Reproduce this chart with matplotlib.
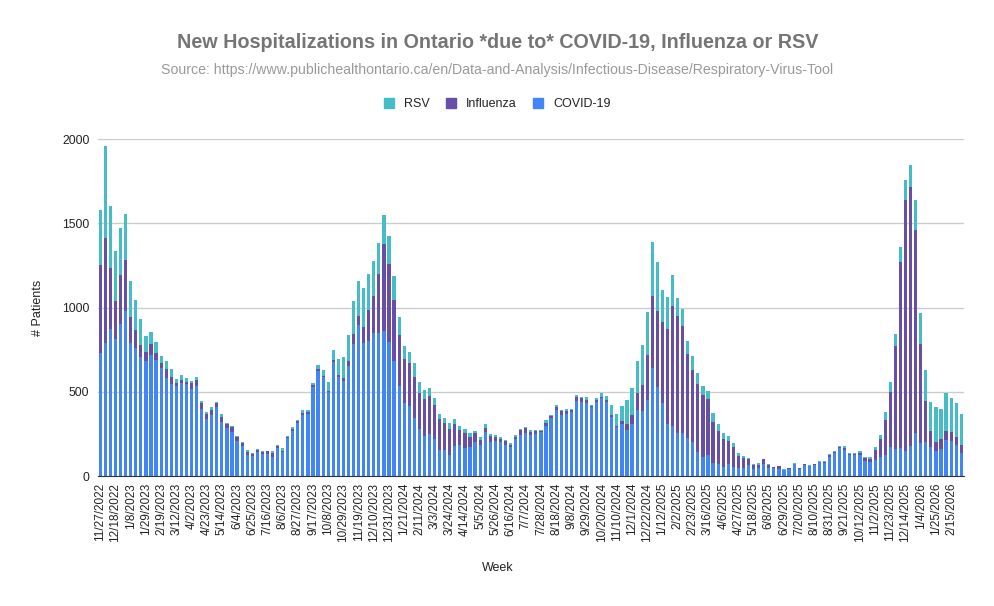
import numpy as np
import pandas as pd
import matplotlib
matplotlib.use("Agg")
import matplotlib.pyplot as plt
from matplotlib.patches import Patch

plt.rcParams['font.family'] = ['Liberation Sans', 'DejaVu Sans']

# weekly data, 11/27/2022 .. 3/1/2026
start_date = "2022-11-27"

covid = [
    728, 788, 873, 811, 901, 978, 788, 758, 704, 686,
    716, 692, 639, 585, 544, 532, 550, 544, 514, 532,
    401, 339, 363, 407, 323, 288, 264, 210, 181, 127,
    121, 145, 133, 133, 115, 169, 145, 228, 270, 317,
    365, 371, 526, 625, 587, 498, 675, 587, 567, 651,
    782, 895, 788, 800, 847, 847, 859, 794, 681, 532,
    436, 413, 347, 282, 240, 252, 222, 157, 157, 127,
    181, 186, 169, 175, 204, 186, 264, 204, 210, 204,
    186, 175, 222, 246, 258, 246, 252, 264, 300, 347,
    395, 365, 371, 383, 448, 442, 436, 407, 442, 466,
    442, 353, 294, 306, 276, 311, 395, 389, 454, 639,
    526, 431, 306, 300, 258, 258, 228, 204, 145, 115,
    127, 79, 73, 56, 73, 56, 50, 50, 67, 44,
    50, 73, 50, 50, 44, 38, 44, 73, 44, 67,
    62, 67, 85, 79, 115, 139, 169, 157, 127, 127,
    127, 91, 85, 97, 115, 127, 175, 163, 169, 151,
    181, 258, 198, 204, 175, 151, 163, 216, 210, 186,
    139,
]

flu = [
    524, 625, 361, 227, 291, 304, 154, 107, 72, 48,
    66, 36, 30, 48, 47, 18, 23, 17, 36, 41,
    30, 30, 32, 24, 30, 23, 28, 22, 17, 18,
    12, 12, 12, 14, 24, 12, 6, 6, 12, 12,
    12, 12, 12, 8, 8, 6, 17, 12, 16, 35,
    59, 53, 95, 184, 220, 351, 518, 464, 363, 303,
    262, 256, 244, 214, 220, 226, 197, 184, 160, 155,
    130, 90, 89, 59, 54, 30, 24, 36, 24, 18,
    24, 11, 12, 30, 30, 18, 18, 6, 17, 12,
    12, 24, 18, 12, 24, 24, 18, 6, 12, 6,
    12, 12, 6, 23, 35, 54, 101, 149, 262, 428,
    452, 482, 565, 708, 690, 631, 494, 423, 399, 369,
    333, 244, 197, 166, 137, 119, 71, 59, 36, 23,
    17, 30, 17, 6, 18, 0, 6, 0, 6, 6,
    0, 6, 0, 6, 12, 6, 6, 12, 6, 6,
    12, 18, 18, 60, 107, 208, 327, 607, 1101, 1488,
    1535, 1202, 584, 244, 95, 53, 59, 54, 54, 48,
    47,
]

rsv = [
    331, 545, 367, 301, 284, 277, 219, 183, 154, 99,
    75, 70, 41, 51, 46, 27, 28, 22, 15, 16,
    15, 12, 16, 11, 16, 4, 6, 6, 6, 12,
    6, 6, 2, 4, 12, 5, 18, 6, 12, 6,
    18, 12, 12, 24, 36, 55, 58, 99, 125, 153,
    201, 213, 236, 218, 213, 189, 171, 170, 146, 111,
    76, 69, 82, 63, 52, 46, 45, 30, 28, 33,
    28, 22, 22, 22, 12, 16, 23, 12, 12, 12,
    6, 12, 12, 6, 6, 12, 6, 6, 18, 6,
    12, 6, 12, 6, 12, 6, 18, 6, 12, 24,
    24, 54, 71, 84, 143, 155, 185, 238, 256, 326,
    296, 194, 194, 188, 111, 101, 78, 83, 69, 52,
    46, 54, 36, 36, 30, 23, 18, 12, 6, 6,
    12, 0, 6, 0, 0, 6, 0, 6, 0, 0,
    5, 0, 6, 6, 6, 6, 6, 12, 6, 6,
    12, 6, 12, 18, 24, 48, 59, 71, 89, 119,
    131, 179, 184, 179, 172, 203, 179, 226, 202, 197,
    185,
]

weeks = pd.date_range(start_date, periods=len(covid), freq="7D")
week_labels = ["{}/{}/{}".format(d.month, d.day, d.year) for d in weeks]

c_covid = "#4285f4"
c_flu = "#674ea7"
c_rsv = "#46bdc6"

fig = plt.figure(figsize=(9.95, 6.06), dpi=100)
ax = fig.add_axes([0.0983, 0.2145, 0.8703, 0.5556])

x = np.arange(len(covid))
covid_a = np.array(covid)
flu_a = np.array(flu)
rsv_a = np.array(rsv)
w = 0.63
ax.bar(x, covid_a, w, color=c_covid, zorder=3)
ax.bar(x, flu_a, w, bottom=covid_a, color=c_flu, zorder=3)
ax.bar(x, rsv_a, w, bottom=covid_a + flu_a, color=c_rsv, zorder=3)

ax.set_xlim(-0.5, len(covid) - 0.5)
ax.set_ylim(0, 2000)
ax.set_yticks([0, 500, 1000, 1500, 2000])
ax.yaxis.grid(True, color="#cccccc", lw=1, zorder=0)
ax.set_axisbelow(True)
for s in ["top", "right", "left"]:
    ax.spines[s].set_visible(False)
ax.spines["bottom"].set_color("#333333")
ax.spines["bottom"].set_zorder(4)

ax.set_xticks(x[::3])
ax.set_xticklabels(week_labels[::3], rotation=90, fontsize=8.5, color="#222222")
ax.tick_params(axis="both", length=0)
ax.tick_params(axis="x", pad=5)
ax.tick_params(axis="y", labelsize=8.7, labelcolor="#222222", pad=6)

fig.text(0.5, 1 - 568 / 606, "Week", ha="center", va="center", fontsize=9, color="#222222")
fig.text(38 / 995, 1 - 308 / 606, "# Patients", rotation=90, ha="center", va="center",
         fontsize=9, color="#222222")

fig.text(0.5, 1 - 42 / 606, "New Hospitalizations in Ontario *due to* COVID-19, Influenza or RSV",
         ha="center", va="center", fontsize=14.2, fontweight="bold", color="#757575")
fig.text(0.5, 1 - 70 / 606,
         "Source: https://www.publichealthontario.ca/en/Data-and-Analysis/Infectious-Disease/Respiratory-Virus-Tool",
         ha="center", va="center", fontsize=10.2, color="#999999")

handles = [Patch(color=c_rsv), Patch(color=c_flu), Patch(color=c_covid)]
fig.legend(handles, ["RSV", "Influenza", "COVID-19"], loc="center",
           bbox_to_anchor=(0.5, 1 - 104 / 606), ncol=3, frameon=False,
           fontsize=9, handlelength=0.8, handleheight=0.8, columnspacing=1.3,
           handletextpad=0.8, labelcolor="#222222")

fig.savefig("out.png", dpi=100)
